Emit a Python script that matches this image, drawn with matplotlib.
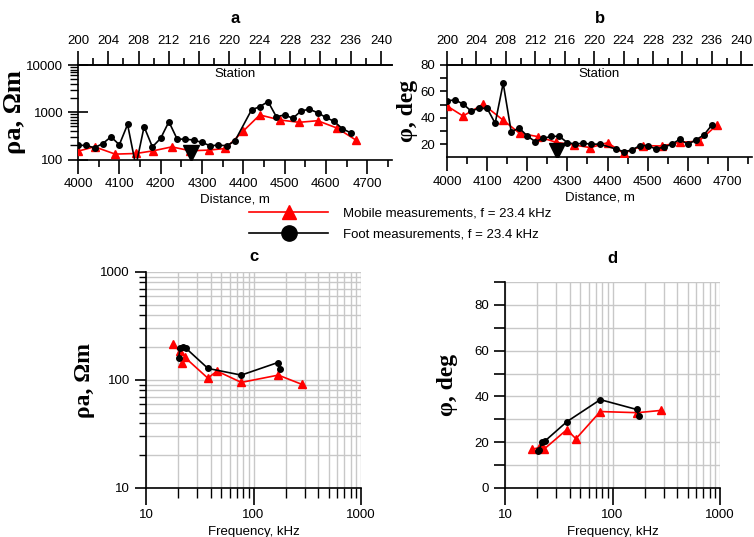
import numpy as np
import matplotlib
matplotlib.use("Agg")
import matplotlib.pyplot as plt
from matplotlib.lines import Line2D
from matplotlib.ticker import MultipleLocator, FixedLocator, FuncFormatter, LogLocator, NullFormatter

plt.rcParams['font.family'] = ['Liberation Sans', 'DejaVu Sans']
plt.rcParams['font.size'] = 9

# --- profile data (distance along the line, m) ---
dist_foot = [4000, 4020, 4040, 4060, 4080, 4100, 4120, 4140, 4160, 4180,
             4200, 4220, 4240, 4260, 4280, 4300, 4320, 4340, 4360, 4380,
             4420, 4440, 4460, 4480, 4500, 4520, 4540, 4560, 4580, 4600,
             4620, 4640, 4660]
rho_foot = [201, 198, 177, 218, 302, 205, 552, 73, 494, 185,
            280, 630, 270, 270, 257, 230, 195, 202, 195, 249,
            1119, 1315, 1682, 805, 877, 745, 1067, 1159, 979, 777,
            639, 447, 367]
phi_foot = [53, 53.5, 50.5, 45.2, 47.2, 47.2, 35.9, 66.2, 29.5, 32.3,
            26.3, 22, 24.5, 26, 26, 21.2, 20.2, 20.8, 20, 20.2,
            16.5, 14.5, 15.5, 19, 19, 16.5, 17.8, 20, 23.8, 20,
            23.3, 27, 34.6]

dist_mobile = [4000, 4040, 4090, 4140, 4181, 4227, 4272, 4316, 4357, 4400,
               4440, 4489, 4535, 4580, 4627, 4673]
rho_mobile = [150, 186, 130, 134, 152, 185, 153, 158, 171, 400,
              877, 686, 612, 662, 462, 257]
phi_mobile = [49, 41.4, 50.3, 38.2, 28.3, 25.8, 21.5, 19.5, 17.5, 21.2,
              13.2, 19, 18.7, 21.5, 22.3, 34.6]

# sounding point marker
sound_dist = [4274]
sound_rho = [140]
sound_phi = [15.0]

# --- frequency sounding data (kHz) ---
freq_foot = [20.1, 20.8, 22.3, 23.5, 37.7, 77.0, 168, 175]
rho_foot_f = [161, 197, 201, 197, 128, 111, 145, 126]
phi_foot_f = [16.0, 16.8, 20.2, 20.5, 29.0, 38.6, 34.3, 31.3]

freq_mobile = [17.8, 20.6, 21.8, 23.0, 37.6, 45.7, 77.0, 170, 283]
rho_mobile_f = [214, 185, 145, 162, 104, 121, 95, 111, 91]
phi_mobile_f = [16.9, 17.6, 18.2, 16.9, 25.5, 21.5, 33.4, 32.9, 33.9]

RED = '#ff0000'
W, H = 754, 537
fig = plt.figure(figsize=(W / 100, H / 100), dpi=100)


def px_axes(l, t, r, b):
    return fig.add_axes([l / W, 1 - b / H, (r - l) / W, (b - t) / H])


def d2s(d):
    return 200 + (np.asarray(d) - 4000) / (660 / 36.)


def s2d(s):
    return 4000 + (np.asarray(s) - 200) * (660 / 36.)


def _profile(ax, y_foot, y_mobile, y_sound):
    ax.plot(dist_mobile, y_mobile, color=RED, lw=1.2, marker='^', ms=5.5, zorder=3)
    ax.plot(dist_foot, y_foot, color='black', lw=1.2, marker='o', ms=4, zorder=4)
    ax.plot(sound_dist, y_sound, color='black', marker='v', ms=11, ls='none', zorder=5)
    ax.set_xlim(4000, 4760)
    ax.spines['right'].set_visible(False)
    ax.xaxis.set_major_locator(FixedLocator([4000, 4100, 4200, 4300, 4400, 4500, 4600, 4700]))
    ax.xaxis.set_minor_locator(MultipleLocator(50))
    ax.tick_params(axis='x', which='major', direction='out', length=10, width=1.2, labelsize=9.5, pad=3)
    ax.tick_params(axis='x', which='minor', direction='out', length=5, width=1.2)
    ax.set_xlabel('Distance, m', fontsize=9.5, labelpad=3)
    for s in ax.spines.values():
        s.set_linewidth(1.2)
    top = ax.secondary_xaxis('top', functions=(d2s, s2d))
    top.xaxis.set_major_locator(MultipleLocator(4))
    top.xaxis.set_minor_locator(MultipleLocator(2))
    top.tick_params(which='major', direction='out', length=10, width=1.2, labelsize=9.5, pad=3)
    top.tick_params(which='minor', direction='out', length=5, width=1.2)
    top.spines['top'].set_linewidth(1.2)
    ax.text(0.5, 0.965, 'Station', transform=ax.transAxes, ha='center', va='top', fontsize=9.5)


# ---------- panel a ----------
ax_a = px_axes(78, 65, 392, 159.5)
_profile(ax_a, rho_foot, rho_mobile, sound_rho)
ax_a.set_yscale('log')
ax_a.set_ylim(100, 10000)
ax_a.yaxis.set_major_locator(FixedLocator([100, 1000, 10000]))
ax_a.yaxis.set_major_formatter(FuncFormatter(lambda v, p: '%d' % v))
ax_a.yaxis.set_minor_locator(LogLocator(base=10, subs=np.arange(2, 10)))
ax_a.yaxis.set_minor_formatter(NullFormatter())
ax_a.tick_params(axis='y', which='major', direction='inout', length=14, width=1.2, labelsize=9.5)
ax_a.tick_params(axis='y', which='minor', direction='out', length=6, width=1.0)
ax_a.set_ylabel('ρa, Ωm', fontsize=19, fontweight='bold', family='Liberation Serif', labelpad=0)
ax_a.set_title('a', fontsize=12, fontweight='bold', pad=30)

# ---------- panel b ----------
ax_b = px_axes(447, 65, 752, 157.5)
_profile(ax_b, phi_foot, phi_mobile, sound_phi)
ax_b.set_ylim(10, 80)
ax_b.yaxis.set_major_locator(FixedLocator([20, 40, 60, 80]))
ax_b.yaxis.set_minor_locator(FixedLocator([30, 50, 70]))
ax_b.tick_params(axis='y', which='both', direction='out', length=5, width=1.2, labelsize=9.5)
ax_b.set_ylabel('φ, deg', fontsize=17, fontweight='bold', family='Liberation Serif', labelpad=2)
ax_b.set_title('b', fontsize=12, fontweight='bold', pad=30)

# ---------- legend ----------
h_mob = Line2D([], [], color=RED, lw=1.2, marker='^', ms=10)
h_foot = Line2D([], [], color='black', lw=1.2, marker='o', ms=11)
fig.legend([h_mob, h_foot],
           ['Mobile measurements, f = 23.4 kHz', 'Foot measurements, f = 23.4 kHz'],
           loc='center left', bbox_to_anchor=(249 / W, 1 - 224 / H), frameon=False,
           handlelength=6.0, handletextpad=1.1, labelspacing=0.65, fontsize=9.5,
           borderpad=0, borderaxespad=0)


def _sounding(ax):
    ax.set_xscale('log')
    ax.set_xlim(10, 1000)
    ax.spines['top'].set_visible(False)
    ax.spines['right'].set_visible(False)
    for s in ['left', 'bottom']:
        ax.spines[s].set_linewidth(1.2)
    ax.xaxis.set_major_locator(FixedLocator([10, 100, 1000]))
    ax.xaxis.set_major_formatter(FuncFormatter(lambda v, p: '%d' % v))
    ax.xaxis.set_minor_locator(LogLocator(base=10, subs=np.arange(2, 10)))
    ax.xaxis.set_minor_formatter(NullFormatter())
    ax.tick_params(axis='x', which='major', direction='out', length=12, width=1.2, labelsize=9.5, pad=3)
    ax.tick_params(axis='x', which='minor', direction='out', length=7, width=1.0)
    ax.grid(True, which='both', color='#c8c8c8', lw=1.0)
    ax.set_axisbelow(True)
    ax.set_xlabel('Frequency, kHz', fontsize=9.5, labelpad=4)


# ---------- panel c ----------
ax_c = px_axes(146, 272, 361, 488)
_sounding(ax_c)
ax_c.plot(freq_mobile, rho_mobile_f, color=RED, lw=1.2, marker='^', ms=5.5, zorder=3, clip_on=False)
ax_c.plot(freq_foot, rho_foot_f, color='black', lw=1.2, marker='o', ms=4, zorder=4, clip_on=False)
ax_c.set_yscale('log')
ax_c.set_ylim(10, 1000)
ax_c.yaxis.set_major_locator(FixedLocator([10, 100, 1000]))
ax_c.yaxis.set_major_formatter(FuncFormatter(lambda v, p: '%d' % v))
ax_c.yaxis.set_minor_locator(LogLocator(base=10, subs=np.arange(2, 10)))
ax_c.yaxis.set_minor_formatter(NullFormatter())
ax_c.tick_params(axis='y', which='major', direction='out', length=8, width=1.2, labelsize=9.5)
ax_c.tick_params(axis='y', which='minor', direction='out', length=5, width=1.0)
ax_c.set_ylabel('ρa, Ωm', fontsize=17, fontweight='bold', family='Liberation Serif', labelpad=4)
ax_c.set_title('c', fontsize=12, fontweight='bold', pad=8)

# ---------- panel d ----------
ax_d = px_axes(505, 282, 720, 488)
_sounding(ax_d)
ax_d.plot(freq_mobile, phi_mobile_f, color=RED, lw=1.2, marker='^', ms=5.5, zorder=3)
ax_d.plot(freq_foot, phi_foot_f, color='black', lw=1.2, marker='o', ms=4, zorder=4)
ax_d.set_ylim(0, 90)
ax_d.yaxis.set_major_locator(FixedLocator([0, 20, 40, 60, 80]))
ax_d.yaxis.set_minor_locator(MultipleLocator(10))
ax_d.tick_params(axis='y', which='both', direction='out', length=8, width=1.2, labelsize=9.5)
ax_d.set_ylabel('φ, deg', fontsize=17, fontweight='bold', family='Liberation Serif', labelpad=12)
ax_d.set_title('d', fontsize=12, fontweight='bold', pad=14)

fig.savefig('out.png', dpi=100)
